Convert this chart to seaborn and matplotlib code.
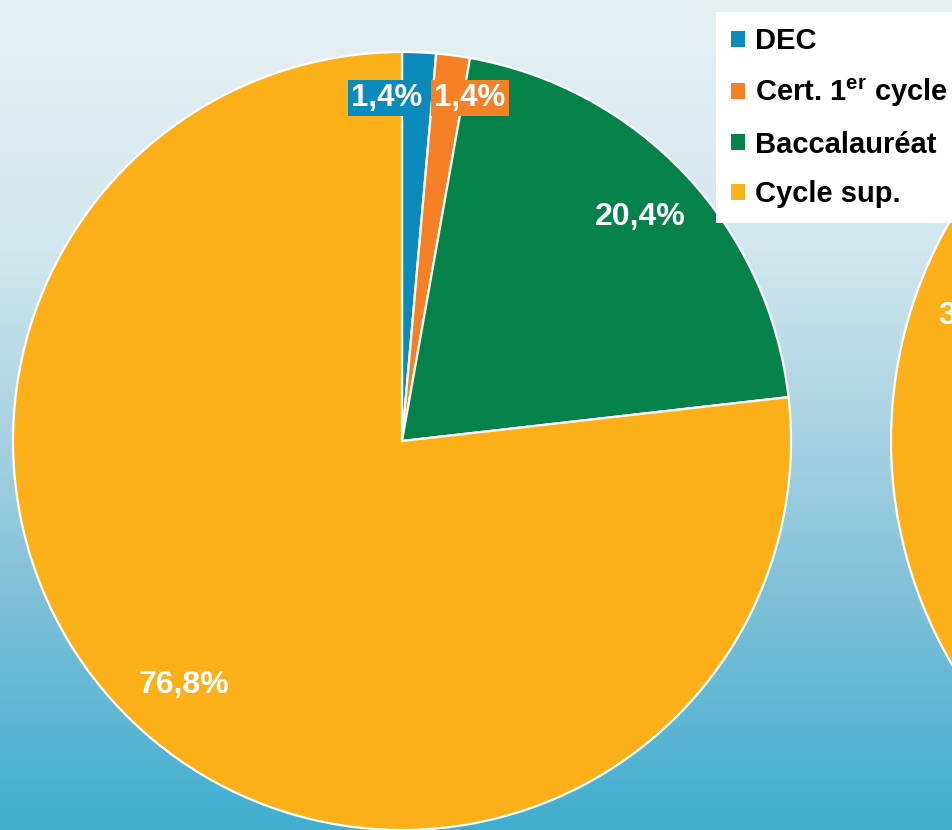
import numpy as np
import matplotlib
matplotlib.use("Agg")
import matplotlib.pyplot as plt
from matplotlib.colors import LinearSegmentedColormap
import seaborn as sns

# ---- data ----
categories = ["DEC", "Cert. 1er cycle", "Baccalauréat", "Cycle sup."]
legend_labels = ["DEC", "Cert. 1$^{\\rm er}$ cycle", "Baccalauréat", "Cycle sup."]
values_left = [1.4, 1.4, 20.4, 76.8]
labels_left = ["1,4%", "1,4%", "20,4%", "76,8%"]
values_right = [3.0, 5.0, 53.0, 39.0]   # second pie, mostly off-frame
labels_right = ["3,0%", "5,0%", "53,0%", "39,0%"]
colors = ["#0a8bbb", "#f58026", "#05824a", "#fbb01a"]

sns.set_theme(style="white")
plt.rcParams["font.family"] = ["Liberation Sans", "DejaVu Sans"]
plt.rcParams["mathtext.fontset"] = "custom"
plt.rcParams["mathtext.rm"] = "Liberation Sans:bold"
plt.rcParams["mathtext.it"] = "Liberation Sans:bold"
plt.rcParams["mathtext.bf"] = "Liberation Sans:bold"

W, H = 953, 830
fig = plt.figure(figsize=(W / 100, H / 100), dpi=100)
ax = fig.add_axes([0, 0, 1, 1])

palette = sns.color_palette(colors)
LABEL_SIZE = 23

def draw_pie(values, labels, center, radius, small_pair=True):
    wedges, _ = ax.pie(values, colors=palette, startangle=90, counterclock=False,
                       center=center, radius=radius, frame=True,
                       wedgeprops=dict(edgecolor="white", linewidth=1.6))
    total = float(sum(values))
    cum = 0.0
    angles = []
    for v in values:
        a0 = 90 - 360 * cum / total
        a1 = 90 - 360 * (cum + v) / total
        angles.append((a0, a1))
        cum += v
    for i, (v, lab) in enumerate(zip(values, labels)):
        a0, a1 = angles[i]
        mid = np.deg2rad((a0 + a1) / 2)
        frac = v / total
        if frac < 0.05 and small_pair and i < 2:
            # two thin slices: labels sit side by side at their shared boundary
            b = np.deg2rad(angles[0][1])
            r = 0.885 * radius
            x = center[0] + r * np.cos(b)
            y = center[1] + r * np.sin(b)
            ha = "right" if i == 0 else "left"
            dx = -10 if i == 0 else 2
            ax.text(x + dx, y, lab, ha=ha, va="center", color="white",
                    fontsize=22.5, fontweight="bold", zorder=5,
                    bbox=dict(boxstyle="square,pad=0.1", fc=colors[i], ec="none"))
        else:
            r = 0.84 * radius
            x = center[0] + r * np.cos(mid)
            y = center[1] + r * np.sin(mid)
            ax.text(x, y, lab, ha="center", va="center", color="white",
                    fontsize=LABEL_SIZE, fontweight="bold", zorder=5)
    return wedges

# background gradient
grad_cmap = LinearSegmentedColormap.from_list(
    "bg", [(0.0, "#e7f1f3"), (0.3, "#d2e7ee"), (0.5, "#acd4e3"),
           (0.72, "#7fc0d8"), (1.0, "#40aecf")])
g = np.linspace(0, 1, 256).reshape(-1, 1)
ax.imshow(g, cmap=grad_cmap, aspect="auto", extent=[0, W, 0, H],
          origin="upper", zorder=0)

wedges = draw_pie(values_left, labels_left, center=(402, H - 441), radius=389)
draw_pie(values_right, labels_right, center=(1331, H - 441), radius=440,
         small_pair=False)

ax.set_xlim(0, W)
ax.set_ylim(0, H)
ax.set_aspect("auto")
ax.axis("off")

leg = ax.legend(wedges, legend_labels, loc="upper left",
                bbox_to_anchor=(716 / W, 1 - 12 / H), borderaxespad=0,
                frameon=True, fancybox=False, facecolor="white",
                edgecolor="none", framealpha=1, labelcolor="black",
                prop=dict(family="Liberation Sans", weight="bold", size=21),
                handlelength=0.48, handleheight=0.48, handletextpad=0.33,
                labelspacing=0.74, borderpad=0.52)
leg.set_zorder(10)
for h in leg.legend_handles:
    h.set_edgecolor("none")

fig.savefig("out.png", dpi=100)
